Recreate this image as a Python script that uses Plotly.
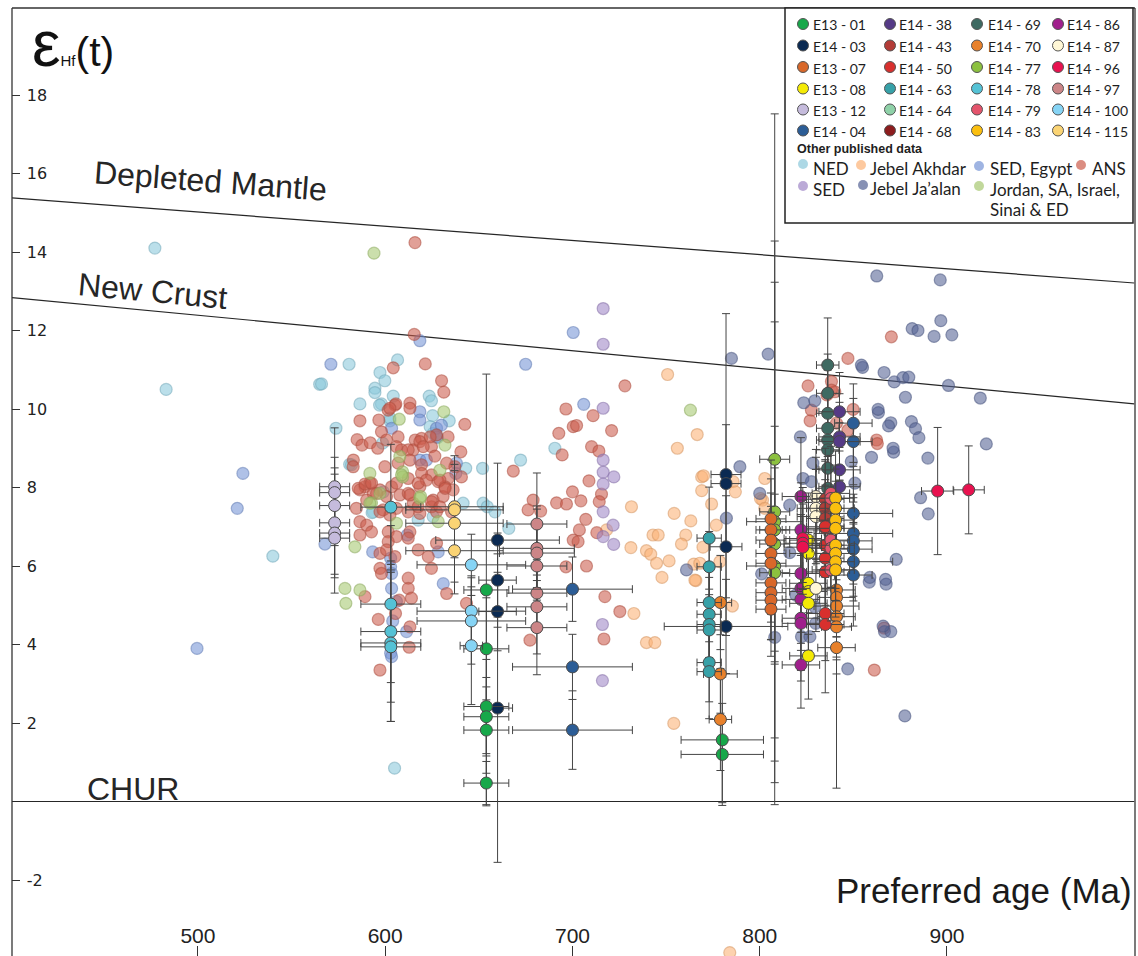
import plotly.graph_objects as go

# ---------------------------------------------------------------------------
# Published compilations: (preferred age [Ma], epsilon Hf(t))
# ---------------------------------------------------------------------------
NED = [(477, 14.1), (483, 10.5), (540, 6.25), (605, 0.85), (580.7, 11.14), (565, 10.63),
       (606.6, 11.25), (597.2, 10.93), (599.8, 10.72), (594.5, 10.53), (594.5, 10.42),
       (586.5, 10.13), (604.3, 10.33), (598, 10.13), (623.5, 10.33), (624.7, 10.21),
       (625.3, 9.83), (634.2, 9.7), (573.7, 9.51), (602.5, 9.7), (581, 8.59), (652, 8.49),
       (672.3, 8.7), (643, 8.49), (625.5, 9.38), (628, 9.27), (566, 10.64), (597, 10.1),
       (602.5, 9.77), (598.6, 9.13), (582, 8.58), (624, 9.55), (627.4, 9.34), (593.6, 7.38),
       (599, 7.89), (641.6, 7.6), (652.3, 7.6), (654.5, 7.51), (658.6, 7.38), (666, 6.96),
       (617.6, 7.17), (625.6, 7.26), (593, 7.36), (690.6, 9.0)]

JEBEL_AKHDAR = [(750.8, 10.88), (766.6, 9.35), (756, 9.0), (769, 8.27), (769, 7.92),
                (774.3, 7.58), (731.5, 7.51), (754.3, 7.34), (763.2, 7.15), (718.2, 6.92),
                (731.2, 6.47), (739.5, 6.39), (741.8, 6.3), (744.9, 6.07), (751.6, 6.13),
                (747.8, 5.71), (743, 6.79), (745.8, 6.79), (760.5, 6.79), (758.2, 6.56),
                (776.8, 7.04), (769.7, 6.48), (765.9, 5.63), (764.8, 6.05), (778.7, 6.11),
                (732.8, 4.79), (739.5, 4.05), (744, 4.05), (754.1, 1.99), (785.4, 4.98),
                (765.4, 5.64), (768, 6.07), (770, 8.3), (785.8, 8.15), (787, 7.89),
                (802.7, 8.23), (801.5, 7.68), (800.4, 7.72), (802.7, 7.47), (784, -3.85)]

SED_EGYPT = [(499.5, 3.9), (521, 7.47), (524, 8.36), (571, 11.14), (675, 11.14),
             (618.5, 11.74), (700.4, 11.95), (706, 10.12), (618.5, 9.93), (618.5, 9.72),
             (603.4, 9.51), (627.4, 9.51), (618.5, 8.7), (622, 8.7), (638, 8.62), (630, 9.59),
             (627.4, 9.29), (637.7, 8.36), (567.8, 6.56), (593.3, 6.36), (602.9, 6.2),
             (602.9, 5.98), (603.4, 5.81), (603.4, 5.43), (602.9, 3.78), (603.4, 3.69),
             (611.4, 4.33), (631, 5.55), (628.3, 6.36), (611.8, 6.79), (604, 4.6), (606, 5.1)]

ANS = [(615.9, 14.24), (615.5, 11.9), (621.4, 11.15), (604.3, 11.05), (630.1, 10.72),
       (631.3, 10.43), (613.2, 10.15), (613.2, 10.02), (605.2, 10.1), (601.6, 9.97),
       (586.5, 9.7), (596.6, 9.72), (642.5, 9.61), (598, 9.42), (585, 9.22), (587.6, 9.08),
       (592, 9.14), (596, 9.0), (608.7, 8.96), (616, 9.21), (619.4, 9.25), (627.4, 9.34),
       (633.6, 9.29), (640.4, 8.91), (615, 8.96), (583, 8.7), (624.7, 9.04), (632.8, 8.62),
       (619.4, 8.58), (626.5, 8.8), (637.2, 8.53), (668.4, 8.42), (605.7, 10.13),
       (602.5, 10.02), (600.7, 9.21), (606.9, 9.29), (618.5, 9.17), (624, 9.29), (606, 9.04),
       (612.3, 8.96), (620.3, 9.04), (582.9, 8.53), (599.8, 8.53), (606.9, 8.62), (613.2, 8.7),
       (640.7, 8.27), (633.6, 8.23), (624.7, 8.32), (619.4, 8.36), (612.3, 8.23), (603.4, 8.02),
       (597.2, 7.94), (589.2, 8.02), (586.5, 7.94), (591.8, 8.12), (618.5, 8.02), (622, 8.19),
       (628.3, 8.15), (631.9, 8.02), (636.3, 7.94), (607.8, 7.81), (612.3, 7.85), (600.7, 7.77),
       (593.6, 7.85), (615, 7.6), (625.6, 7.68), (630.9, 7.77), (624.7, 7.51), (627.4, 7.38),
       (606, 7.47), (612.3, 7.38), (598.9, 7.43), (584.6, 7.47), (602.5, 7.3), (618.5, 7.34),
       (635.4, 7.38), (585.6, 7.98), (589.2, 8.09), (592.7, 8.11), (590.1, 7.68), (595.4, 7.85),
       (606, 8.11), (617.6, 8.11), (629.2, 8.19), (632, 7.98), (613.2, 7.81), (624.7, 7.64),
       (629.2, 7.51), (617.6, 7.51), (597.2, 7.38), (586.5, 7.13), (590.1, 7.04), (592.7, 6.87),
       (586.5, 6.79), (601.6, 6.87), (606, 6.75), (613.2, 6.87), (612.3, 6.71), (601.6, 6.62),
       (597.2, 6.32), (600.7, 6.41), (605.2, 6.24), (617.6, 6.41), (623, 6.24), (627.4, 6.58),
       (624.7, 5.94), (597.2, 5.94), (598, 5.81), (612.3, 5.69), (612.3, 5.43), (589.2, 5.22),
       (614, 5.18), (607.5, 5.13), (632.8, 5.3), (643.4, 5.05), (605.5, 4.79), (596.3, 4.64),
       (613.2, 4.45), (612.8, 3.93), (597.2, 3.35), (677.3, 4.11), (679, 7.68), (683, 7.4),
       (676.3, 7.43), (728, 10.59), (696.5, 10.0), (711, 9.83), (700.4, 9.55), (702.2, 9.58),
       (692.7, 9.38), (720.9, 9.45), (710.2, 9.04), (714.1, 8.93), (694.5, 8.83), (708.8, 8.17),
       (700, 7.89), (691.5, 7.61), (696.8, 7.58), (704.5, 7.66), (715.5, 7.83), (714.3, 7.64),
       (707.1, 7.19), (703.7, 6.92), (713, 6.85), (700.4, 6.66), (703, 6.62), (696.5, 5.98),
       (707.5, 6.0), (717.3, 5.22), (725.3, 4.84), (716.8, 4.14), (870.3, 11.84), (847.1, 11.29),
       (825.8, 10.59), (838.3, 10.7), (827.6, 9.97), (849.9, 9.99), (826.9, 9.7), (847.1, 9.46),
       (862.4, 9.21), (840.1, 10.44), (841, 9.64), (835.9, 10.36), (838.3, 10.48), (862.8, 9.12),
       (866.4, 4.42), (861.2, 3.35)]

SED = [(716.4, 12.56), (716.4, 11.65), (716.4, 10.02), (716.4, 8.7), (716.4, 8.39),
       (722.1, 8.27), (716.4, 8.09), (716.4, 7.38), (721.7, 7.04), (716.4, 6.75), (722, 6.55),
       (716, 4.51), (716, 3.08)]

JEBEL_JAALAN = [(862.5, 13.39), (896.4, 13.29), (896.7, 12.25), (881.4, 12.05), (884.5, 12.0),
                (893.1, 11.85), (902.6, 11.89), (854.9, 11.06), (866.4, 10.93), (871.8, 10.69),
                (876.5, 10.8), (879.6, 10.81), (900.8, 10.6), (877.8, 10.3), (917.8, 10.28),
                (863.4, 9.91), (870, 9.65), (868.8, 9.57), (881, 9.68), (883.2, 9.5), (885, 9.27),
                (871.5, 8.9), (859.7, 8.77), (889.8, 8.75), (921, 9.11), (885.9, 7.74), (890, 7.33),
                (872.9, 6.17), (858.5, 5.59), (867.5, 5.54), (866.6, 4.33), (870, 4.33), (847, 3.38),
                (877.5, 2.18), (804.5, 11.4), (854.3, 11.12), (823.5, 10.16), (829.4, 10.21),
                (863.2, 9.99), (821.7, 9.29), (871.2, 9.0), (828.4, 8.62), (823.1, 8.23),
                (827.6, 8.15), (848.9, 8.66), (800, 7.85), (816, 7.55), (850.8, 8.11),
                (784.9, 11.29), (789.4, 8.53), (782.2, 7.22), (816, 6.34), (801, 5.8), (819.3, 5.26),
                (829.4, 4.96), (829.9, 4.54), (822.3, 4.2), (826.8, 4.2), (808, 4.18), (858.8, 5.71),
                (867.2, 5.66), (865.9, 4.47), (760.9, 5.9)]

JORDAN_SA_ISRAEL_SINAI_ED = [(594, 13.97), (763, 9.97), (631.3, 9.93), (607.5, 9.74),
                             (631.9, 9.08), (607.8, 8.79), (609.3, 8.4), (609.3, 8.27),
                             (591.8, 8.36), (592.7, 7.61), (618.5, 7.72), (629.2, 8.44),
                             (608.7, 8.32), (597.2, 7.85), (591.8, 7.6), (606, 7.09),
                             (628.3, 7.13), (583.8, 6.49), (578.5, 5.43), (586.5, 5.39),
                             (579, 5.05), (618.9, 7.77)]

# ---------------------------------------------------------------------------
# Samples of this study: (age [Ma], eHf(t), age 2s, eHf 2s)
# ---------------------------------------------------------------------------
E13_01 = [(654, 5.39, 12, 5.5), (654, 3.89, 12, 1.3), (654, 2.42, 12, 1.2), (654, 2.16, 12, 1.0),
          (654, 1.82, 12, 1.1), (654, 0.47, 12, 0.55), (780, 1.57, 22, 1.6), (780, 1.20, 22, 1.3)]
E14_03 = [(660, 6.66, 33, 1.96), (660, 5.64, 10, 1.2), (660, 4.84, 10, 1.0), (660, 2.38, 8, 3.93),
          (782, 8.33, 8, 4.1), (782, 8.10, 8, 1.5), (782, 6.49, 8.5, 1.3), (782, 4.46, 33, 1.2)]
E13_07 = [(806, 7.20, 8, 1.5), (806, 6.92, 8, 1.3), (806, 6.66, 8, 1.2), (806, 6.32, 8, 1.2),
          (806, 6.07, 8, 1.3), (806, 5.57, 8, 1.0), (806, 5.32, 8, 1.2), (806, 5.13, 8, 1.0),
          (806, 4.90, 8, 1.2)]
E13_08 = [(826, 6.66, 10, 1.2), (826, 6.32, 10, 1.3), (826, 5.56, 10, 1.3), (826, 5.35, 10, 1.5),
          (826, 5.05, 10, 1.4), (826, 3.71, 10, 1.1)]
E13_12 = [(573, 8.02, 8, 1.5), (573, 7.87, 8, 0.9), (573, 7.54, 8, 0.8), (573, 7.10, 8, 1.4),
          (573, 6.84, 8, 1.05), (573, 6.71, 8, 1.4)]
E14_04 = [(700, 5.41, 32, 0.82), (700, 3.43, 32, 0.83), (700, 1.82, 32, 1.0), (850, 9.64, 10, 1.0),
          (850, 9.17, 10, 1.1), (850, 7.34, 21, 1.2), (850, 6.83, 21, 1.0), (850, 6.64, 10, 1.1),
          (850, 6.43, 10, 1.2), (850, 6.11, 21, 1.0), (850, 5.77, 10, 1.3)]
E14_38 = [(842.6, 9.93, 11, 1.0), (842.6, 9.29, 11, 1.1), (842.6, 9.17, 11, 1.0),
          (842.6, 8.45, 11, 1.2), (842.6, 8.02, 11, 1.0)]
E14_43 = [(835, 7.70, 10, 1.3), (835, 7.47, 10, 1.2), (835, 7.21, 10, 1.5), (835, 6.96, 10, 1.1)]
E14_50 = [(835, 7.00, 10, 1.2), (835, 6.53, 10, 1.1), (835, 6.20, 10, 1.2), (835, 5.85, 10, 1.3),
          (835, 4.79, 10, 1.2), (835, 4.51, 10, 1.74)]
E14_63 = [(773, 6.71, 6.5, 1.3), (773, 5.98, 6.5, 0.9), (773, 5.07, 6.5, 1.0), (773, 4.77, 6.5, 1.1),
          (773, 4.51, 6.5, 1.2), (773, 4.37, 6.5, 0.9), (773, 3.54, 6.5, 1.0), (773, 3.31, 6.5, 1.2)]
E14_64 = []
E14_68 = []
E14_69 = [(836.3, 11.12, 6, 1.2), (836.3, 10.40, 6, 1.0), (836.3, 9.89, 6, 1.1), (836.3, 9.51, 6, 1.0),
          (836.3, 9.21, 6, 1.2), (836.3, 8.96, 6, 1.0), (836.3, 8.49, 6, 1.1), (836.3, 7.98, 6, 1.2)]
E14_70 = [(779, 5.07, 6, 1.2), (779, 3.25, 9, 1.0), (779, 2.09, 6, 1.3), (841, 5.39, 10, 1.2),
          (841, 5.20, 10, 1.0), (841, 4.98, 12, 1.3), (841, 4.71, 10, 1.1), (841, 4.45, 8, 1.2),
          (841, 3.92, 10, 3.58)]
E14_77 = [(808, 8.72, 8, 8.8), (808, 7.38, 8, 6.9), (808, 7.13, 15, 6.1), (808, 6.92, 8, 5.3),
          (808, 6.56, 8, 3.0), (808, 6.00, 15, 2.5), (808, 5.83, 8, 2.0)]
E14_78 = [(603, 7.50, 16, 1.6), (603, 5.03, 16, 2.0), (603, 4.33, 16, 1.8), (603, 4.04, 16, 2.0),
          (603, 3.94, 16, 1.9)]
E14_79 = [(838, 7.85, 10, 1.2), (838, 7.72, 10, 1.1), (838, 6.66, 10, 1.2), (838, 6.45, 10, 1.0),
          (838, 5.90, 10, 1.3)]
E14_83 = [(840.5, 7.73, 10, 1.2), (840.5, 7.47, 10, 1.1), (840.5, 7.17, 10, 1.3),
          (840.5, 6.96, 10, 1.2), (840.5, 6.53, 10, 1.1), (840.5, 6.32, 10, 1.2),
          (840.5, 6.11, 10, 1.0), (840.5, 5.90, 10, 1.2)]
E14_86 = [(822, 7.77, 10, 1.5), (822, 6.92, 10, 1.2), (822, 5.81, 10, 1.5), (822, 5.43, 10, 1.4),
          (822, 5.15, 10, 1.3), (822, 4.67, 10, 1.6), (822, 4.54, 10, 1.2), (822, 3.48, 10, 1.1)]
E14_87 = [(830, 7.77, 10, 1.2), (830, 7.47, 10, 1.3), (830, 7.26, 10, 1.2), (830, 5.43, 10, 1.1)]
E14_96 = [(823, 6.70, 10, 1.3), (823, 6.58, 10, 1.0), (823, 6.48, 10, 1.2), (895, 7.91, 8.6, 1.62),
          (911.6, 7.94, 8.3, 1.12)]
E14_97 = [(681, 7.07, 16, 1.3), (681, 6.45, 20, 1.0), (681, 6.33, 20, 1.2), (681, 6.00, 16, 1.0),
          (681, 5.31, 16, 1.0), (681, 4.96, 16, 1.2), (681, 4.43, 16, 1.2)]
E14_100 = [(646, 6.03, 29, 0.78), (646, 4.85, 29, 0.9), (646, 4.60, 29, 1.1), (646, 3.97, 6, 1.5)]
E14_115 = [(637, 7.51, 26, 1.3), (637, 7.43, 26, 1.0), (637, 7.09, 26, 1.5), (637, 6.39, 26, 1.1)]

# Reference evolution lines (age [Ma], eHf)
DM_AGE, DM_EHF = [400, 1000], [15.38, 13.21]
NC_AGE, NC_EHF = [400, 1000], [12.84, 10.13]
CHUR_AGE, CHUR_EHF = [400, 1000], [0, 0]

X_TICKS = [500, 600, 700, 800, 900]
Y_TICKS = [-2, 2, 4, 6, 8, 10, 12, 14, 16, 18]
Y_TICK_LABELS = ["-2", "2", "4", "6", "8", "10", "12", "14", "16", "18"]

# ---------------------------------------------------------------------------
# Styling
# ---------------------------------------------------------------------------
SAMPLES = [
    ("E13 - 01", E13_01, "#17a84a"), ("E14 - 03", E14_03, "#0b2a52"),
    ("E13 - 07", E13_07, "#d9682a"), ("E13 - 08", E13_08, "#f4ea06"),
    ("E13 - 12", E13_12, "#c5bbdc"), ("E14 - 04", E14_04, "#2c5d96"),
    ("E14 - 38", E14_38, "#553a86"), ("E14 - 43", E14_43, "#b33c37"),
    ("E14 - 50", E14_50, "#d8302e"), ("E14 - 63", E14_63, "#37a1a8"),
    ("E14 - 64", E14_64, "#8fd1a8"), ("E14 - 68", E14_68, "#8c1c1e"),
    ("E14 - 69", E14_69, "#3e6a62"), ("E14 - 70", E14_70, "#e8812b"),
    ("E14 - 77", E14_77, "#8cc13f"), ("E14 - 78", E14_78, "#55c2d5"),
    ("E14 - 79", E14_79, "#e4546c"), ("E14 - 83", E14_83, "#fbbf0f"),
    ("E14 - 86", E14_86, "#a01f8c"), ("E14 - 87", E14_87, "#fff7d6"),
    ("E14 - 96", E14_96, "#e8124f"), ("E14 - 97", E14_97, "#cc8587"),
    ("E14 - 100", E14_100, "#86d4f5"), ("E14 - 115", E14_115, "#fbd474"),
]

PUBLISHED = [
    ("NED", NED, (138, 200, 218)),
    ("Jebel Akhdar", JEBEL_AKHDAR, (252, 178, 118)),
    ("SED, Egypt", SED_EGYPT, (118, 148, 214)),
    ("ANS", ANS, (204, 92, 76)),
    ("SED", SED, (158, 134, 198)),
    ("Jebel Ja'alan", JEBEL_JAALAN, (84, 98, 148)),
    ("Jordan, SA, Israel, Sinai & ED", JORDAN_SA_ISRAEL_SINAI_ED, (166, 200, 112)),
]

W, H = 1138, 956
ML, MR, MT, MB = 12, 3, 8, 0
PW, PH = W - ML - MR, H - MT - MB
X_RANGE = [400.7, 1000.4]
Y_RANGE = [-3.936, 20.217]
INK = "#262626"
BAR = "#454545"


def paper_x(p):
    return (p - ML) / PW


def paper_y(p):
    return (H - MB - p) / PH


fig = go.Figure()

# evolution lines
for ages, vals in ((DM_AGE, DM_EHF), (NC_AGE, NC_EHF), (CHUR_AGE, CHUR_EHF)):
    fig.add_trace(go.Scatter(x=ages, y=vals, mode="lines", showlegend=False,
                             line=dict(color=INK, width=1.2), hoverinfo="skip"))

# published data clouds
for name, pts, rgb in PUBLISHED:
    r, g, b = rgb
    fig.add_trace(go.Scatter(
        x=[p[0] for p in pts], y=[p[1] for p in pts], mode="markers", name=name,
        showlegend=False,
        marker=dict(size=12, color=f"rgba({r},{g},{b},0.58)",
                    line=dict(width=1.2, color=f"rgba({int(r*0.85)},{int(g*0.85)},{int(b*0.85)},0.55)")),
    ))

# samples with 2-sigma error bars
draw_order = ["E14 - 77", "E14 - 03", "E13 - 01", "E14 - 78", "E14 - 70", "E13 - 12", "E14 - 115",
              "E14 - 100", "E14 - 97", "E14 - 04", "E14 - 63", "E13 - 07", "E14 - 69", "E14 - 38",
              "E14 - 86", "E13 - 08", "E14 - 87", "E14 - 43", "E14 - 50", "E14 - 79", "E14 - 83",
              "E14 - 96", "E14 - 64", "E14 - 68"]
by_name = {s[0]: s for s in SAMPLES}
for key in draw_order:
    name, pts, color = by_name[key]
    if not pts:
        continue
    fig.add_trace(go.Scatter(
        x=[p[0] for p in pts], y=[p[1] for p in pts], mode="markers", name=name,
        showlegend=False,
        error_x=dict(type="data", array=[p[2] for p in pts], color=BAR, thickness=1, width=4),
        error_y=dict(type="data", array=[p[3] for p in pts], color=BAR, thickness=1, width=4),
        marker=dict(size=12, color=color, line=dict(width=1, color="#4a4a4a")),
    ))

shapes = []
annotations = []

# plot frame (left, top, right)
for x0, y0, x1, y1 in ((0, 0, 0, 1), (0, 1, 1, 1), (1, 0, 1, 1)):
    shapes.append(dict(type="line", xref="paper", yref="paper", x0=x0, y0=y0, x1=x1, y1=y1,
                       line=dict(color="#333333", width=1.3), layer="above"))

# legend box
shapes.append(dict(type="rect", xref="paper", yref="paper",
                   x0=paper_x(785), x1=paper_x(1133), y0=paper_y(223), y1=paper_y(8),
                   line=dict(color="#222222", width=1.5), fillcolor="white", layer="above"))


def legend_dot(cx, cy, color, r, edge):
    shapes.append(dict(type="circle", xref="paper", yref="paper", xsizemode="pixel",
                       ysizemode="pixel", xanchor=paper_x(cx), yanchor=paper_y(cy),
                       x0=-r, x1=r, y0=-r, y1=r, fillcolor=color,
                       line=dict(color=edge, width=1 if edge != "rgba(0,0,0,0)" else 0),
                       layer="above"))


def legend_text(x, y, text, size, family="Lato, Open Sans, sans-serif", bold=False):
    annotations.append(dict(xref="paper", yref="paper", x=paper_x(x), y=paper_y(y),
                            xanchor="left", yanchor="middle", showarrow=False,
                            text=f"<b>{text}</b>" if bold else text,
                            font=dict(size=size, family=family, color="#1e1e1e")))


col_dot_x = [803, 890, 977, 1058]
col_txt_x = [811, 897, 986, 1065]
row_y = [24, 45.5, 67, 88.5, 109.5, 130.5]
legend_cols = [
    ["E13 - 01", "E14 - 03", "E13 - 07", "E13 - 08", "E13 - 12", "E14 - 04"],
    ["E14 - 38", "E14 - 43", "E14 - 50", "E14 - 63", "E14 - 64", "E14 - 68"],
    ["E14 - 69", "E14 - 70", "E14 - 77", "E14 - 78", "E14 - 79", "E14 - 83"],
    ["E14 - 86", "E14 - 87", "E14 - 96", "E14 - 97", "E14 - 100", "E14 - 115"],
]
for ci, col in enumerate(legend_cols):
    for ri, key in enumerate(col):
        legend_dot(col_dot_x[ci], row_y[ri], by_name[key][2], 5.5, "#555555")
        legend_text(col_txt_x[ci], row_y[ri] + 1, key, 14)

legend_text(795, 149, "Other published data", 12.5, family="Liberation Sans, Arial", bold=True)
pub_layout = {
    "NED": ((803, 164), (811, 168), "NED"),
    "Jebel Akhdar": ((861, 165), (868, 168), "Jebel Akhdar"),
    "SED, Egypt": ((979, 166), (988, 169), "SED, Egypt"),
    "ANS": ((1081, 165), (1090, 168), "ANS"),
    "SED": ((803, 186), (811, 189), "SED"),
    "Jebel Ja'alan": ((863, 185), (868, 188), "Jebel Ja’alan"),
    "Jordan, SA, Israel, Sinai & ED": ((979, 186), (988, 189), "Jordan, SA, Israel,"),
}
for name, pts, rgb in PUBLISHED:
    (dx, dy), (tx, ty), label = pub_layout[name]
    r, g, b = rgb
    legend_dot(dx, dy, f"rgba({r},{g},{b},0.7)", 5, "rgba(0,0,0,0)")
    legend_text(tx, ty, label, 17)
legend_text(988, 210, "Sinai &amp; ED", 17)

# line labels
for text, cx, cy, ang in (("Depleted Mantle", 210, 181, 4.3), ("New Crust", 152, 291, 5.4),
                          ("CHUR", 133, 789, 0)):
    annotations.append(dict(xref="paper", yref="paper", x=paper_x(cx), y=paper_y(cy),
                            xanchor="center", yanchor="middle", showarrow=False, text=text,
                            textangle=ang,
                            font=dict(size=32, family="Liberation Sans, Arial", color=INK)))

# axis titles
annotations.append(dict(xref="paper", yref="paper", x=paper_x(30), y=paper_y(44),
                        xanchor="left", yanchor="middle", showarrow=False,
                        text=('<span style="font-size:64px">ε</span>'
                              '<span style="font-size:15px">Hf</span>(t)'),
                        font=dict(size=41, family="Liberation Sans, Arial", color="#111111")))
annotations.append(dict(xref="paper", yref="paper", x=paper_x(984), y=paper_y(890),
                        xanchor="center", yanchor="middle", showarrow=False,
                        text="Preferred age (Ma)",
                        font=dict(size=35, family="Liberation Sans, Arial", color="#1a1a1a")))

fig.update_layout(
    width=W, height=H, margin=dict(l=ML, r=MR, t=MT, b=MB, pad=0),
    paper_bgcolor="white", plot_bgcolor="white", showlegend=False,
    shapes=shapes, annotations=annotations,
    xaxis=dict(range=X_RANGE, tickvals=X_TICKS, ticks="inside", ticklen=10, tickcolor="#333333",
               ticklabelposition="inside", showgrid=False, zeroline=False, showline=False,
               tickfont=dict(size=21, family="Liberation Sans Narrow, Arial Narrow, Liberation Sans",
                             color="#222222")),
    yaxis=dict(range=Y_RANGE, tickvals=Y_TICKS, ticktext=Y_TICK_LABELS, ticks="inside", ticklen=8,
               tickcolor="#333333", ticklabelposition="inside", ticklabelstandoff=7,
               showgrid=False, zeroline=False, showline=False,
               tickfont=dict(size=16, family="DejaVu Sans", color="#222222")),
)

fig.write_html("out.html")
